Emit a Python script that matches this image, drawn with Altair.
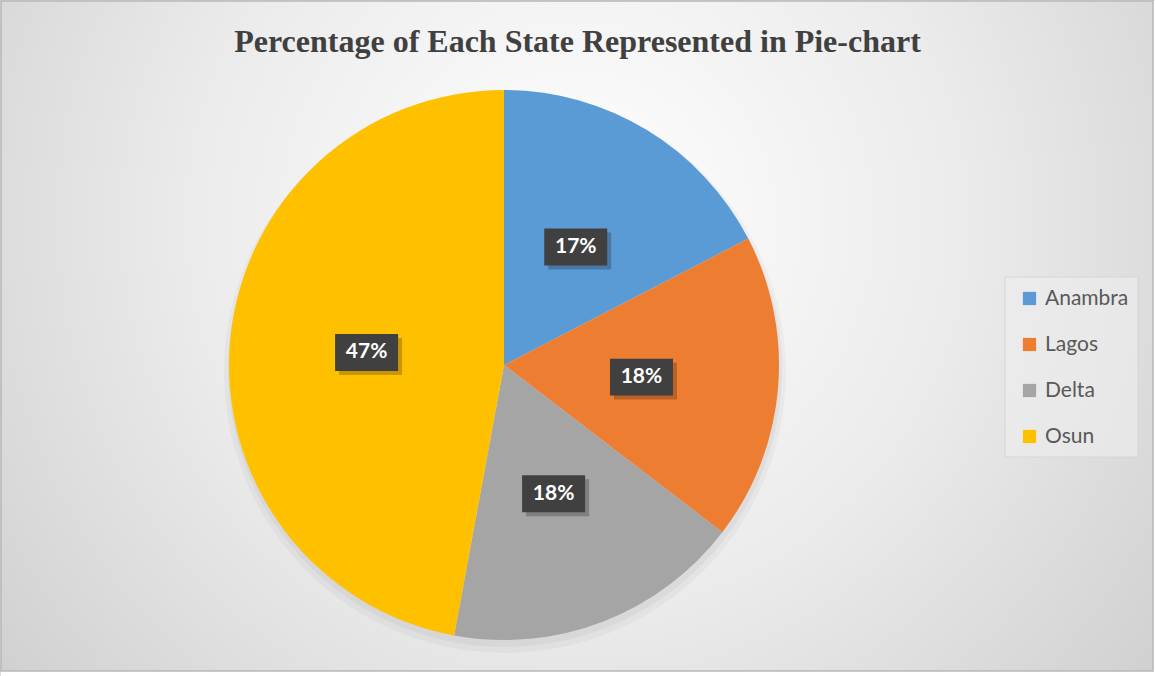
import altair as alt
import pandas as pd

states = ["Anambra", "Lagos", "Delta", "Osun"]
percent = [17.4, 18.0, 17.5, 47.1]
labels = ["17%", "18%", "18%", "47%"]
colors = ["#5B9BD5", "#ED7D31", "#A5A5A5", "#FFC000"]
order = [1, 2, 3, 4]

df = pd.DataFrame({"state": states, "pct": percent, "label": labels, "ord": order})

W, H = 1155, 676
CX, CY, R = 504, 365, 275
LR = 138

base = alt.Chart(df)

bg = alt.Chart(pd.DataFrame({"k": [0]})).mark_rect(
    fill=alt.RadialGradient(
        gradient="radial", x1=0.5, y1=0.4, r1=0.0, x2=0.5, y2=0.4, r2=0.75,
        stops=[alt.GradientStop(offset=0, color="#ffffff"),
               alt.GradientStop(offset=0.45, color="#ebebeb"),
               alt.GradientStop(offset=1, color="#c6c6c6")]),
    stroke="#b8b8b8", strokeWidth=1.5,
).encode(x=alt.value(1), x2=alt.value(W - 2), y=alt.value(1), y2=alt.value(671))

shadow1 = base.mark_arc(radius=R + 6, color="#000000", opacity=0.03).encode(
    theta=alt.Theta("pct:Q", stack=True),
    x=alt.value(CX + 1), y=alt.value(CY + 7),
)
shadow2 = base.mark_arc(radius=R + 2, color="#000000", opacity=0.04).encode(
    theta=alt.Theta("pct:Q", stack=True),
    x=alt.value(CX + 1), y=alt.value(CY + 5),
)

pie = base.mark_arc(radius=R).encode(
    theta=alt.Theta("pct:Q", stack=True),
    order=alt.Order("ord:Q"),
    color=alt.Color("state:N", sort=states,
                    scale=alt.Scale(domain=states, range=colors),
                    legend=alt.Legend(title=None, orient="none", legendX=1019, legendY=288,
                                      padding=0,
                                      symbolType="square", symbolSize=175, symbolStrokeWidth=0,
                                      labelFont="Lato", labelFontSize=21, labelColor="#595959",
                                      rowPadding=24, labelOffset=5)),
    x=alt.value(CX), y=alt.value(CY),
)

legbox = alt.Chart(pd.DataFrame({"k": [0]})).mark_rect(
    fill="#eeeeee", fillOpacity=0.6, stroke="#d6d6d6", strokeWidth=1
).encode(x=alt.value(1005), x2=alt.value(1138), y=alt.value(277), y2=alt.value(457))

calc = base.transform_window(
    cum="sum(pct)", sort=[alt.SortField("ord")], frame=[None, 0]
).transform_joinaggregate(total="sum(pct)").transform_calculate(
    ang="(datum.cum - datum.pct/2) / datum.total * 2 * PI",
    px=f"{CX} + {LR} * sin(datum.ang)",
    py=f"{CY} - {LR} * cos(datum.ang)",
    sx="datum.px + 4",
    sy="datum.py + 4",
)

box_shape = "M-1,-0.587L1,-0.587L1,0.587L-1,0.587Z"

box_shadow = calc.mark_point(shape=box_shape, size=3969, filled=True, color="#000000",
                             opacity=0.22, strokeWidth=0).encode(
    x=alt.X("sx:Q", scale=None), y=alt.Y("sy:Q", scale=None))

box = calc.mark_point(shape=box_shape, size=3969, filled=True, color="#404040",
                      opacity=1, strokeWidth=0).encode(
    x=alt.X("px:Q", scale=None), y=alt.Y("py:Q", scale=None))

txt = calc.mark_text(font="Lato", fontSize=21, fontWeight="bold", color="#ffffff",
                     baseline="middle", align="center").encode(
    x=alt.X("px:Q", scale=None), y=alt.Y("py:Q", scale=None), text="label:N")

chart = alt.layer(bg, legbox, shadow1, shadow2, pie, box_shadow, box, txt).properties(
    width=W, height=H, autosize="none", padding=0,
    title=alt.Title("Percentage of Each State Represented in Pie-chart",
                    font="Liberation Serif", fontSize=32, fontWeight="bold",
                    color="#404040", anchor="middle", orient="top", offset=-58,
                    baseline="alphabetic", dy=26),
).configure_view(stroke=None).configure(background="#ffffff")

chart.save("out.html", embed_options={"renderer": "svg", "actions": False})
